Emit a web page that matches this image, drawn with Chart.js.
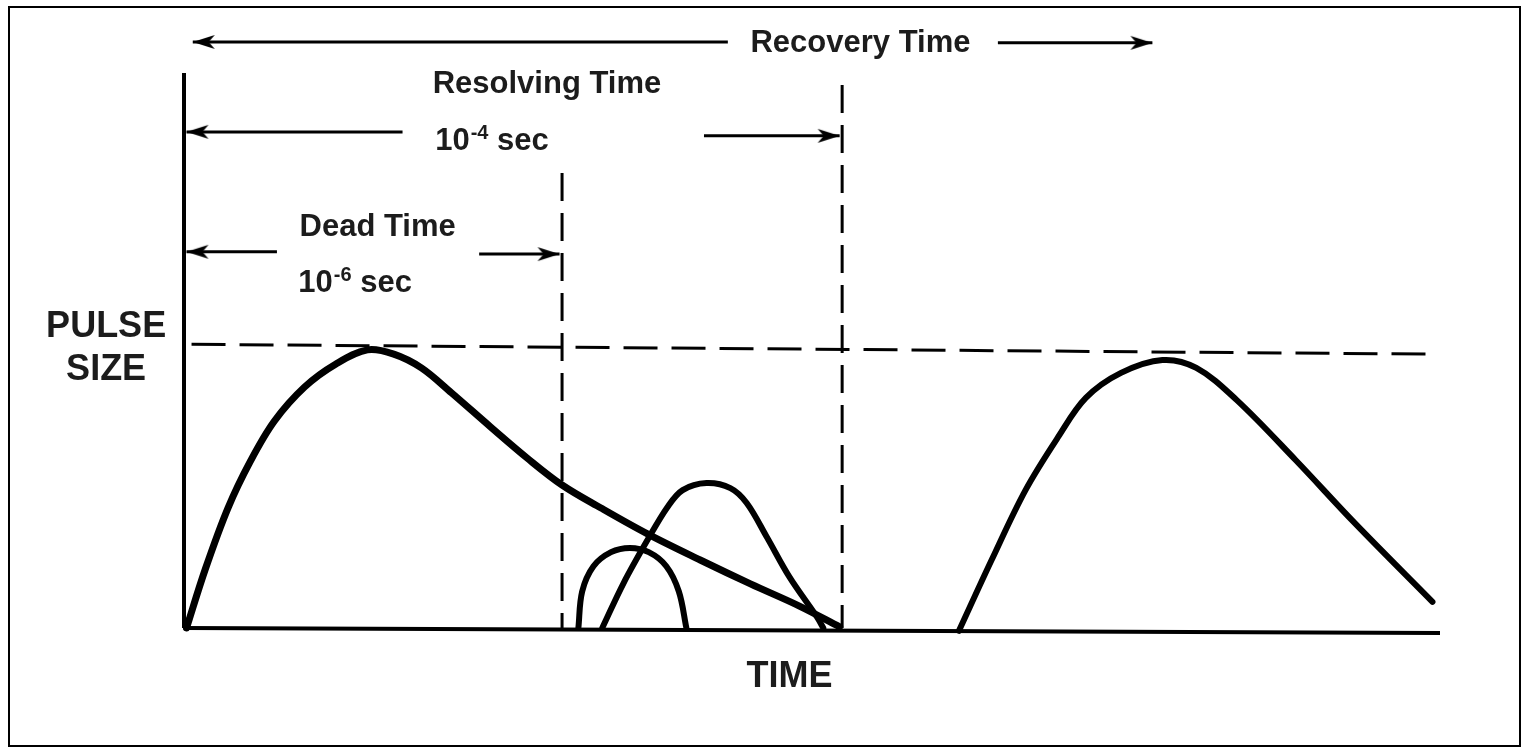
<!DOCTYPE html>
<html>
<head>
<meta charset="utf-8">
<title>Dead Time, Resolving Time and Recovery Time</title>
<script src="https://cdn.jsdelivr.net/npm/chart.js"></script>
<style>
  html, body { margin: 0; padding: 0; background: #fff; }
  #wrap { position: relative; width: 1522px; height: 748px; }
  #frame { position: absolute; left: 8px; top: 6px; right: 1px; bottom: 1px; border: 2px solid #000; pointer-events: none; }
</style>
</head>
<body>
<div id="wrap">
  <canvas id="pulseChart"></canvas>
  <div id="frame"></div>
</div>
<script>
// x = time along the baseline (0..100), y = pulse size (100 = full pulse height)
const firstPulse = [[0.2,0],[1.7,21],[3.5,42.7],[5.3,59.5],[7.2,73.7],[9.6,85.8],[12.1,94],[14.6,99],
  [16.7,97.5],[18.9,92.6],[21.3,83.7],[24.4,71.6],[27.4,60.2],[30.1,50.9],[33.2,42.7],[36.9,33.5],
  [41.1,24.2],[45.1,15.7],[49.0,7.8],[52.2,0.4]];
const smallPulse = [[31.4,0],[31.7,13],[32.6,22],[34.0,27],[35.5,28.5],[37.0,27],[38.4,22],[39.4,13],[40.0,0]];
const middlePulse = [[33.3,0],[35.0,16],[36.9,31.3],[38.5,43.1],[39.7,49.1],[41.6,51.6],[43.5,49.8],
  [44.8,44.5],[46.4,32.4],[48.2,18.2],[50.4,3.9],[50.9,0]];
const lastPulse = [[61.7,-1],[64.3,24.2],[67.0,49.1],[69.6,68],[71.8,81.9],[74.6,90.8],[77.9,95.4],
  [80.6,92.6],[83.8,81.2],[88.5,59.8],[93.2,37.4],[99.4,9.3]];

const yAxisLine = [[0,0],[0,197.6]];
const baseLine = [[0,0],[100,-1.8]];
const heightLine = [[0.6,101],[99.5,97.5]];
const deadLimit = [[30.1,162],[30.1,0]];
const resolveLimit = [[52.4,193.3],[52.4,0]];

// arrows: [tail, tip]
const recoveryLeft = [[43.3,208.6],[0.7,208.6]];
const recoveryRight = [[64.8,208.3],[77.1,208.3]];
const resolveLeft = [[17.4,176.6],[0.2,176.6]];
const resolveRight = [[41.4,175.2],[52.2,175.2]];
const deadLeft = [[7.4,133.9],[0.2,133.9]];
const deadRight = [[23.5,133.1],[29.9,133.1]];

const labels = [
  {text: 'Recovery Time', x: 45.1, y: 205.1, size: 31, align: 'left'},
  {text: 'Resolving Time', x: 19.8, y: 190.5, size: 31, align: 'left'},
  {text: '10', sup: '-4', rest: ' sec', x: 20.0, y: 170.2, size: 31, align: 'left'},
  {text: 'Dead Time', x: 9.2, y: 139.6, size: 31, align: 'left'},
  {text: '10', sup: '-6', rest: ' sec', x: 9.1, y: 119.6, size: 31, align: 'left'},
  {text: 'PULSE', x: -6.2, y: 103.6, size: 36, align: 'center'},
  {text: 'SIZE', x: -6.2, y: 88.3, size: 36, align: 'center'},
  {text: 'TIME', x: 48.2, y: -21, size: 36, align: 'center'}
];

const pts = a => a.map(([x, y]) => ({x, y}));

function arrowHead() {
  const c = document.createElement('canvas');
  c.width = 46; c.height = 18;
  const g = c.getContext('2d');
  g.fillStyle = '#000';
  g.beginPath();
  g.moveTo(23, 9);
  g.lineTo(1, 2);
  g.lineTo(7, 9);
  g.lineTo(1, 16);
  g.closePath();
  g.fill();
  return c;
}
const head = arrowHead();

function curve(data, width) {
  return {data: pts(data), borderColor: '#000', borderWidth: width, tension: 0.35,
    borderCapStyle: 'round', borderJoinStyle: 'round'};
}
function straight(data, width, dash) {
  return {data: pts(data), borderColor: '#000', borderWidth: width, borderDash: dash || []};
}
function arrow(data, rot) {
  return {data: pts(data), borderColor: '#000', borderWidth: 3, pointRadius: [0, 1],
    pointStyle: head, pointRotation: rot};
}

const labelPlugin = {
  id: 'labels',
  afterDatasetsDraw(chart) {
    const ctx = chart.ctx;
    const sx = chart.scales.x, sy = chart.scales.y;
    ctx.save();
    ctx.fillStyle = '#1c1c1c';
    ctx.textBaseline = 'alphabetic';
    labels.forEach(l => {
      const px = sx.getPixelForValue(l.x);
      const py = sy.getPixelForValue(l.y);
      ctx.font = 'bold ' + l.size + 'px "Liberation Sans", Arial, sans-serif';
      if (!l.sup) {
        ctx.textAlign = l.align;
        ctx.fillText(l.text, px, py);
        return;
      }
      ctx.textAlign = 'left';
      let cx = px;
      ctx.fillText(l.text, cx, py);
      cx += ctx.measureText(l.text).width + 1;
      ctx.font = 'bold 20px "Liberation Sans", Arial, sans-serif';
      ctx.fillText(l.sup, cx, py - 11);
      cx += ctx.measureText(l.sup).width;
      ctx.font = 'bold ' + l.size + 'px "Liberation Sans", Arial, sans-serif';
      ctx.fillText(l.rest, cx, py);
    });
    ctx.restore();
  }
};

new Chart(document.getElementById('pulseChart'), {
  type: 'line',
  data: {
    datasets: [
      straight(yAxisLine, 4),
      straight(baseLine, 4),
      straight(heightLine, 3, [34, 14]),
      straight(deadLimit, 3, [28, 12]),
      straight(resolveLimit, 3, [28, 12]),
      curve(firstPulse, 7),
      curve(smallPulse, 6),
      curve(middlePulse, 6),
      curve(lastPulse, 6),
      arrow(recoveryLeft, 180),
      arrow(recoveryRight, 0),
      arrow(resolveLeft, 180),
      arrow(resolveRight, 0),
      arrow(deadLeft, 180),
      arrow(deadRight, 0)
    ]
  },
  options: {
    responsive: true,
    maintainAspectRatio: false,
    animation: false,
    events: [],
    layout: {padding: {left: 184, right: 82, top: 10, bottom: 120}},
    scales: {
      x: {type: 'linear', min: 0, max: 100, display: false},
      y: {type: 'linear', min: 0, max: 220, display: false}
    },
    datasets: {line: {clip: false, fill: false, pointRadius: 0}},
    plugins: {legend: {display: false}, tooltip: {enabled: false}}
  },
  plugins: [labelPlugin]
});
</script>
</body>
</html>
